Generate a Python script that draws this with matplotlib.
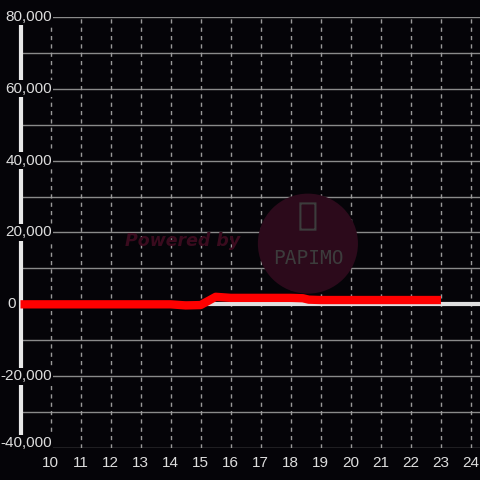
import matplotlib

matplotlib.use("Agg")
import matplotlib.pyplot as plt
from matplotlib.patches import Ellipse, FancyBboxPatch

BG = "#050408"
FG = "#dddddd"

# hourly series (x = hour of day)
hours = [9, 10, 11, 12, 13, 14, 14.5, 15, 15.5, 16, 17, 18, 18.4, 18.6, 19, 20, 21, 22, 23]
values = [0, 0, 0, 0, 0, 0, -300, -200, 2100, 1800, 1800, 1800, 1700, 1300, 1200, 1200, 1200, 1200, 1200]

y_ticks = [-40000, -20000, 0, 20000, 40000, 60000, 80000]
y_grid = list(range(-40000, 80001, 10000))
x_ticks = list(range(10, 25))

plt.rcParams["font.family"] = ["Liberation Sans", "DejaVu Sans"]

fig = plt.figure(figsize=(4.8, 4.8), dpi=100, facecolor=BG)
ax = fig.add_axes([20.5 / 480, 32 / 480, 459.5 / 480, 431 / 480], facecolor=BG)
ax.set_xlim(9, 24.3)
ax.set_ylim(-40000, 80000)

for s in ["top", "right", "bottom"]:
    ax.spines[s].set_visible(False)
ax.spines["left"].set_color("#e8e8e8")
ax.spines["left"].set_linewidth(3)
ax.set_xticks([])
ax.set_yticks([])

# grid
for v in y_grid:
    ax.axhline(v, color="#8a8a8a", lw=1, zorder=1)
for x in x_ticks:
    ax.axvline(x, color="#9a9a9a", lw=1, ls=(0, (3, 3)), zorder=1)

# watermark
ax.add_patch(Ellipse((18.57, 16900), 100 / 30, 100 / 35.9 * 10000,
                     facecolor="#2c0a1b", edgecolor="none", zorder=2))
ax.add_patch(FancyBboxPatch((18.32, 20800), 0.5, 7300,
                            boxstyle="round,pad=0,rounding_size=0.08",
                            facecolor="none", edgecolor="#3c3c3c", lw=1.5, zorder=2))
ax.text(18.57, 12900, "PAPIMO", color="#3c3c3c", fontsize=14,
        family="DejaVu Sans Mono", ha="center", va="center", zorder=2)
ax.text(14.4, 17500, "Powered by", color="#3a0b1e", fontsize=12.5,
        fontweight="bold", style="italic", family="DejaVu Sans",
        ha="center", va="center", zorder=2)

# zero line
ax.axhline(0, color="#e0e0e0", lw=3, zorder=3)

# y tick labels inside the plot with background boxes
for v in y_ticks:
    if v == 0:
        ax.text(-0.01, v, "0", color=FG, fontsize=11, ha="right", va="center",
                transform=ax.get_yaxis_transform(), zorder=5, clip_on=False)
        continue
    yy = v if v != -40000 else -38600
    ax.text(10.05, yy, f"{v:,}", color=FG, fontsize=11, ha="right", va="center",
            zorder=5, clip_on=False,
            bbox=dict(facecolor=BG, edgecolor="none", pad=1.0))

# series on top
ax.plot(hours, values, color="#ff0000", lw=6, solid_joinstyle="round",
        solid_capstyle="butt", zorder=6, clip_on=False)

# x tick labels
for x in x_ticks:
    ax.text(x, -44200, str(x), color=FG, fontsize=11, ha="center", va="center",
            clip_on=False)

fig.savefig("out.png", dpi=100, facecolor=BG)
